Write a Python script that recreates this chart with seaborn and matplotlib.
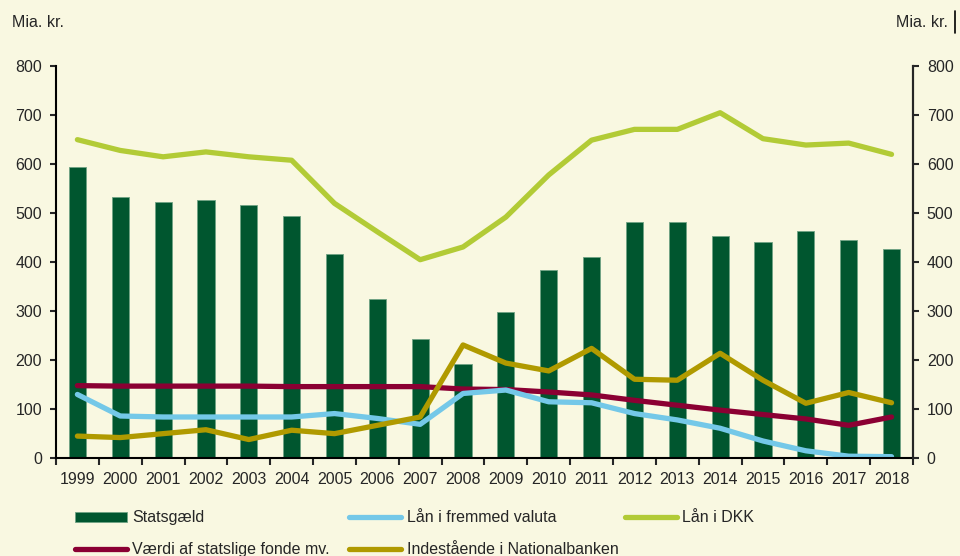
import matplotlib
matplotlib.use('Agg')
import matplotlib.pyplot as plt
from matplotlib.lines import Line2D
import numpy as np
import pandas as pd
import seaborn as sns

years = [str(y) for y in range(1999, 2019)]
statsgaeld = [595, 533, 522, 526, 516, 494, 416, 324, 243, 193,
              298, 384, 411, 482, 482, 454, 441, 463, 446, 426]
laan_fremmed = [130, 86, 84, 84, 84, 84, 91, 81, 69, 132,
                139, 115, 113, 91, 78, 61, 35, 15, 4, 3]
laan_dkk = [650, 628, 615, 625, 615, 608, 520, 462, 405, 431,
            492, 578, 649, 671, 671, 705, 652, 639, 643, 620]
fonde = [148, 147, 147, 147, 147, 146, 146, 146, 146, 141,
         140, 135, 129, 118, 108, 98, 89, 80, 67, 84]
indestaaende = [45, 42, 50, 58, 38, 57, 50, 67, 84, 231,
                194, 178, 224, 161, 159, 214, 159, 112, 134, 113]

bg = '#F9F8E1'
sns.set_style('ticks')
plt.rcParams['font.family'] = ['Liberation Sans', 'DejaVu Sans']
plt.rcParams['font.size'] = 11.5

df = pd.DataFrame({'year': years, 'pos': np.arange(len(years)),
                   'Statsgæld': statsgaeld,
                   'Lån i fremmed valuta': laan_fremmed,
                   'Lån i DKK': laan_dkk,
                   'Værdi af statslige fonde mv.': fonde,
                   'Indestående i Nationalbanken': indestaaende})

fig = plt.figure(figsize=(9.6, 5.56), dpi=100, facecolor=bg)
ax = fig.add_axes([0.0583, 0.176, 0.8927, 0.705])
ax.set_facecolor(bg)

sns.barplot(data=df, x='year', y='Statsgæld', color='#00562F', width=0.4,
            edgecolor='#6FA384', linewidth=0.6, saturation=1, ax=ax,
            label='Statsgæld')

line_cols = {'Værdi af statslige fonde mv.': '#8B0033',
             'Lån i fremmed valuta': '#74C8E8',
             'Indestående i Nationalbanken': '#B09A00',
             'Lån i DKK': '#B2CB36'}
for name, col in line_cols.items():
    sns.lineplot(data=df, x='pos', y=name, color=col, linewidth=3.8,
                 solid_capstyle='round', ax=ax, label=name)

ax.set_xlim(-0.5, len(years) - 0.5)
ax.set_ylim(0, 800)
ax.set_yticks(range(0, 801, 100))
ax.set_xticks(np.arange(len(years)))
ax.set_xticklabels(years)
ax.set_xticks(np.arange(-0.5, len(years)), minor=True)
ax.tick_params(axis='x', which='major', length=0, pad=10)
ax.tick_params(axis='x', which='minor', length=5, width=1.5, direction='out')
ax.tick_params(axis='y', length=4, width=1.5, direction='out', pad=6)
ax.set_xlabel('')
ax.set_ylabel('')
for s in ['left', 'right', 'bottom']:
    ax.spines[s].set_linewidth(1.5)
    ax.spines[s].set_color('black')
ax.spines['top'].set_visible(False)

ax2 = ax.twinx()
ax2.set_ylim(0, 800)
ax2.set_yticks(range(0, 801, 100))
ax2.tick_params(axis='y', length=4, width=1.5, direction='out', pad=6)
ax2.spines['top'].set_visible(False)
ax2.spines['right'].set_linewidth(1.5)
ax2.spines['left'].set_visible(False)
ax2.spines['bottom'].set_visible(False)
ax2.set_ylabel('')

fig.text(0.0125, 0.96, 'Mia. kr.', ha='left', va='center')
fig.text(0.987, 0.96, 'Mia. kr.', ha='right', va='center')
fig.add_artist(Line2D([0.9945, 0.9945], [0.94, 0.98], color='black', lw=1.2,
                      transform=fig.transFigure))

handles, labels = ax.get_legend_handles_labels()
hmap = dict(zip(labels, handles))
ax.get_legend().remove()
columns = [(0.078, ['Statsgæld', 'Værdi af statslige fonde mv.']),
           (0.364, ['Lån i fremmed valuta', 'Indestående i Nationalbanken']),
           (0.651, ['Lån i DKK'])]
for x0, names in columns:
    fig.legend([hmap[k] for k in names], names, frameon=False,
               loc='upper left', bbox_to_anchor=(x0, 0.082), handlelength=3.25,
               handleheight=0.55, handletextpad=0.35, labelspacing=1.05,
               borderaxespad=0, borderpad=0)

fig.savefig('out.png', dpi=100, facecolor=bg)
